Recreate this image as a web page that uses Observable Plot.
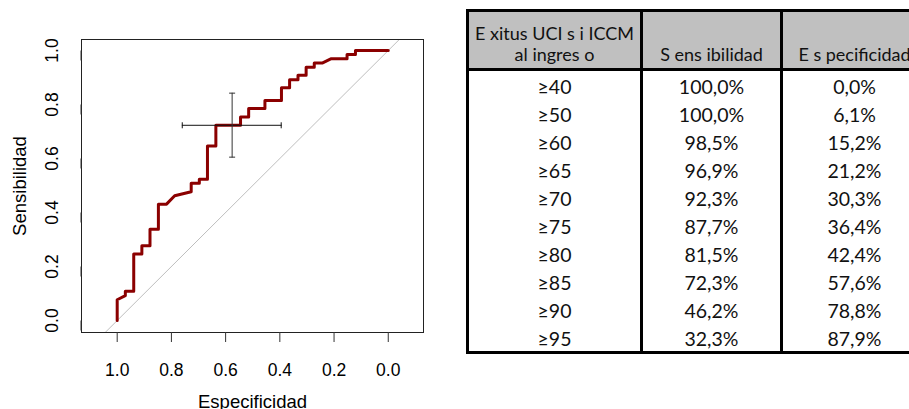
<!DOCTYPE html>
<html><head><meta charset="utf-8">
<script src="https://cdn.jsdelivr.net/npm/d3@7"></script>
<script src="https://cdn.jsdelivr.net/npm/@observablehq/plot@0.6"></script>
<style>
body{margin:0;background:#fff;}
#wrap{position:relative;width:909px;height:409px;overflow:hidden;background:#fff;}
#chart{position:absolute;left:0;top:0;}
#tbl{position:absolute;left:466px;top:8.5px;border-collapse:collapse;table-layout:fixed;width:460px;font-family:Lato,"Open Sans",sans-serif;color:#111;}
#tbl th,#tbl td{padding:0;text-align:center;border-left:3px solid #000;border-right:3px solid #000;}
#tbl th{background:#c0c0c0;font-weight:normal;font-size:18px;line-height:21px;vertical-align:bottom;padding-bottom:3px;height:53px;border-top:3px solid #000;border-bottom:3px solid #000;}
#tbl td{font-size:19.5px;height:27.8px;line-height:25px;padding-top:3px;box-sizing:border-box;}
#tbl tr:last-child td{border-bottom:3px solid #000;}
</style></head>
<body><div id="wrap"><div id="chart"></div><table id="tbl"></table></div>
<script>
// ROC curve (specificity, sensitivity)
const rocSpec = [1,1,0.970,0.970,0.939,0.939,0.909,0.909,0.879,0.879,0.848,0.848,0.818,0.788,0.727,0.727,0.697,0.697,0.667,0.667,0.636,0.636,0.545,0.545,0.515,0.515,0.455,0.455,0.394,0.394,0.364,0.364,0.333,0.333,0.303,0.303,0.273,0.273,0.242,0.212,0.152,0.152,0.121,0.121,0];
const rocSens = [0,0.077,0.092,0.108,0.108,0.246,0.246,0.277,0.277,0.338,0.338,0.431,0.431,0.462,0.477,0.508,0.508,0.523,0.523,0.646,0.646,0.723,0.723,0.754,0.754,0.785,0.785,0.815,0.815,0.862,0.862,0.892,0.892,0.908,0.908,0.938,0.938,0.954,0.954,0.969,0.969,0.985,0.985,1,1];
// best threshold with confidence intervals
const bestSpec = 0.576, bestSens = 0.723;
const ciSpec = [0.760, 0.395];
const ciSens = [0.605, 0.842];
const xTicks = [1.0, 0.8, 0.6, 0.4, 0.2, 0.0];
const yTicks = [0.0, 0.2, 0.4, 0.6, 0.8, 1.0];
const xDomain = [1.1317, -0.130];
const yDomain = [-0.0444, 1.0407];
// table
const tableHeader = [["E xitus UCI s i ICCM", "al ingres o"], ["S ens ibilidad"], ["E s pecificidad"]];
const thresholds = ["≥40","≥50","≥60","≥65","≥70","≥75","≥80","≥85","≥90","≥95"];
const sensPct = [100.0,100.0,98.5,96.9,92.3,87.7,81.5,72.3,46.2,32.3];
const specPct = [0.0,6.1,15.2,21.2,30.3,36.4,42.4,57.6,78.8,87.9];

const roc = rocSpec.map((s, i) => ({spec: s, sens: rocSens[i]}));
const diag = xDomain.map(s => ({spec: s, sens: 1 - s}));
const hBar = ciSpec.map(s => ({spec: s, sens: bestSens}));
const vBar = ciSens.map(v => ({spec: bestSpec, sens: v}));
const vCap = {draw(ctx, size){const h = Math.sqrt(size/Math.PI); ctx.moveTo(0,-h); ctx.lineTo(0,h);}};
const hCap = {draw(ctx, size){const h = Math.sqrt(size/Math.PI); ctx.moveTo(-h,0); ctx.lineTo(h,0);}};

const plot = Plot.plot({
  width: 450, height: 409,
  marginLeft: 81, marginRight: 27, marginTop: 39, marginBottom: 77,
  style: {fontFamily: "'Liberation Sans', Arial, sans-serif", background: "#fff", color: "#000"},
  x: {domain: xDomain},
  y: {domain: yDomain},
  marks: [
    Plot.line(diag, {x: "spec", y: "sens", stroke: "#bebebe", strokeWidth: 1, clip: true}),
    Plot.line(roc, {x: "spec", y: "sens", stroke: "#8b0000", strokeWidth: 3, strokeLinejoin: "round"}),
    Plot.line(hBar, {x: "spec", y: "sens", stroke: "#111", strokeWidth: 1}),
    Plot.line(vBar, {x: "spec", y: "sens", stroke: "#333", strokeWidth: 1}),
    Plot.dot(hBar, {x: "spec", y: "sens", symbol: vCap, r: 3, fill: "none", stroke: "#111", strokeWidth: 1}),
    Plot.dot(vBar, {x: "spec", y: "sens", symbol: hCap, r: 3, fill: "none", stroke: "#333", strokeWidth: 1}),
    Plot.frame({stroke: "#222", strokeWidth: 1}),
    Plot.axisX(xTicks, {tickSize: 10, tickPadding: 21, fontSize: 17.5, tickFormat: d3.format(".1f"), stroke: "#333", label: null}),
    Plot.axisY(yTicks, {tickSize: 10, tickPadding: 14, fontSize: 17.5, rotate: -90, textAnchor: "middle", lineAnchor: "bottom", tickFormat: d3.format(".1f"), stroke: "#333", label: null}),
    Plot.text(["Especificidad"], {frameAnchor: "bottom", text: d => d, dy: 75, lineAnchor: "bottom", fontSize: 18.5}),
    Plot.text(["Sensibilidad"], {frameAnchor: "left", text: d => d, rotate: -90, dx: -56, lineAnchor: "bottom", textAnchor: "middle", fontSize: 18.5})
  ]
});
document.getElementById("chart").appendChild(plot);

const fmt = v => v.toFixed(1).replace(".", ",") + "%";
const tbl = document.getElementById("tbl");
let html = '<colgroup><col style="width:174px"><col style="width:140px"><col style="width:146px"></colgroup><tr>';
tableHeader.forEach(h => { html += "<th>" + h.join("<br>") + "</th>"; });
html += "</tr>";
thresholds.forEach((t, i) => {
  html += "<tr><td>" + t + "</td><td>" + fmt(sensPct[i]) + "</td><td>" + fmt(specPct[i]) + "</td></tr>";
});
tbl.innerHTML = html;
</script></body></html>
